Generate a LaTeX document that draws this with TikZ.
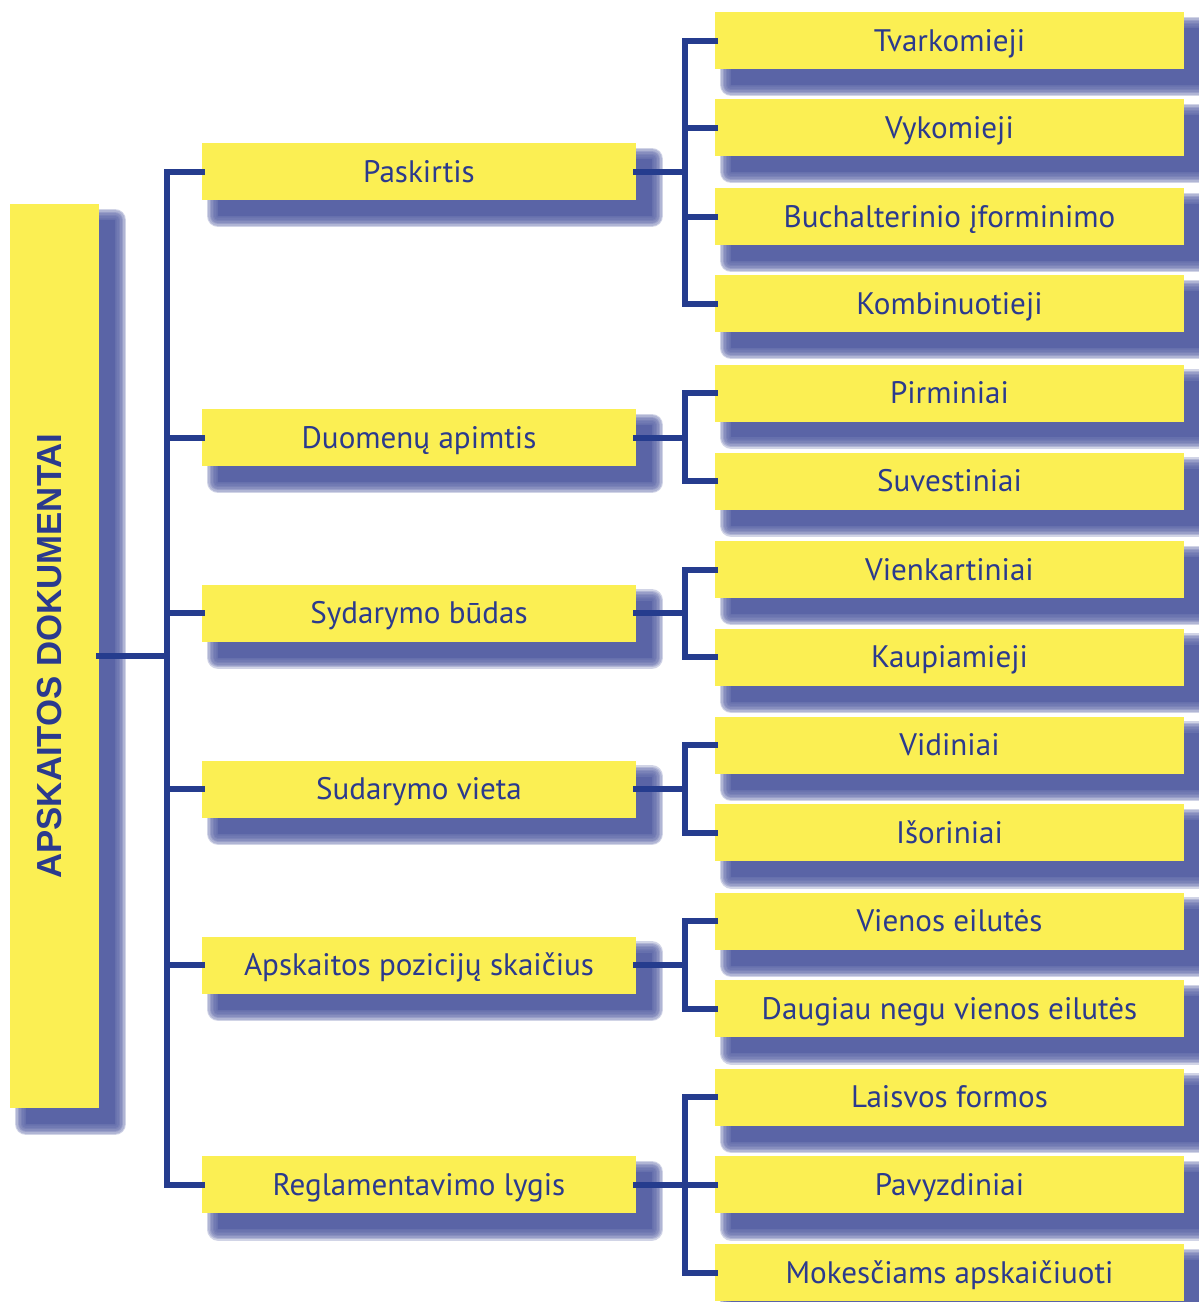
\documentclass[tikz,border=0pt]{standalone}
\usepackage{fontspec}
\setmainfont{PT Sans}
\newfontfamily\mainlab{Liberation Sans}
\definecolor{ybox}{HTML}{FBEF53}
\definecolor{lnc}{HTML}{253C8E}
\definecolor{txc}{HTML}{2B3A8E}
\definecolor{shc}{HTML}{5A64A6}
\tikzset{
  shsh/.style={transform canvas={xshift=0.32cm,yshift=-0.32cm}},
  shl/.style={preaction={draw=shc, draw opacity=0.28, line width=#1, line join=round, shsh}},
  shadowed/.style={
    shl=0.46cm, shl=0.40cm, shl=0.34cm, shl=0.28cm, shl=0.22cm, shl=0.16cm, shl=0.10cm, shl=0.05cm,
    preaction={fill=shc, shsh}},
  ybase/.style={shadowed, fill=ybox, inner sep=0pt, outer sep=0pt, text=txc,
    font=\fontsize{17.7}{19}\selectfont, text height=12.4pt, text depth=0pt, minimum height=1.14cm},
  midbox/.style={ybase, minimum width=8.68cm},
  rbox/.style={ybase, minimum width=9.38cm},
  mainbox/.style={ybase, minimum width=1.78cm, minimum height=18.08cm},
  conn/.style={draw=lnc, line width=0.12cm, line join=miter, line cap=rect},
}
\begin{document}
\begin{tikzpicture}[x=0.02cm,y=-0.02cm]
\useasboundingbox (0,0) rectangle (1199,1302);
\coordinate (trunk) at (167,0);
\coordinate (br) at (685,0);
% main
\node[mainbox] (main) at (54.5,656) {};
\node[rotate=90, text=txc, inner sep=0pt, text height=14.2pt, text depth=0pt,
  font=\mainlab\bfseries\fontsize{19.8}{21}\selectfont] (maint) at (49,656) {APSKAITOS DOKUMENTAI};
% middle
\node[midbox] (m1) at (419,171.5) {Paskirtis};
\node[midbox] (m2) at (419,437.5) {Duomenų apimtis};
\node[midbox] (m3) at (419,613) {Sydarymo būdas};
\node[midbox] (m4) at (419,789) {Sudarymo vieta};
\node[midbox] (m5) at (419,965) {Apskaitos pozicijų skaičius};
\node[midbox] (m6) at (419,1184.5) {Reglamentavimo lygis};
% right
\node[rbox] (r1) at (949.5,40.5) {Tvarkomieji};
\node[rbox] (r2) at (949.5,127.5) {Vykomieji};
\node[rbox] (r3) at (949.5,216.5) {Buchalterinio įforminimo};
\node[rbox] (r4) at (949.5,303.5) {Kombinuotieji};
\node[rbox] (r5) at (949.5,393) {Pirminiai};
\node[rbox] (r6) at (949.5,481) {Suvestiniai};
\node[rbox] (r7) at (949.5,569.5) {Vienkartiniai};
\node[rbox] (r8) at (949.5,657) {Kaupiamieji};
\node[rbox] (r9) at (949.5,745) {Vidiniai};
\node[rbox] (r10) at (949.5,832.5) {Išoriniai};
\node[rbox] (r11) at (949.5,921) {Vienos eilutės};
\node[rbox] (r12) at (949.5,1008.5) {Daugiau negu vienos eilutės};
\node[rbox] (r13) at (949.5,1097) {Laisvos formos};
\node[rbox] (r14) at (949.5,1184.5) {Pavyzdiniai};
\node[rbox] (r15) at (949.5,1272.5) {Mokesčiams apskaičiuoti};
% trunk connectors
\draw[conn] (main.east) -- (main.east -| trunk);
\draw[conn] (m1.west) -- (m1.west -| trunk) -- (m6.west -| trunk) -- (m6.west);
\foreach \m in {m2,m3,m4,m5} \draw[conn] (\m.west -| trunk) -- (\m.west);
% branches
\foreach \m/\a/\b in {m1/r1/r4, m2/r5/r6, m3/r7/r8, m4/r9/r10, m5/r11/r12, m6/r13/r15} {
  \draw[conn] (\m.east) -- (\m.east -| br);
  \draw[conn] (\a.west) -- (\a.west -| br) -- (\b.west -| br) -- (\b.west);
}
\foreach \r in {r2,r3,r14} \draw[conn] (\r.west -| br) -- (\r.west);
\end{tikzpicture}
\end{document}
